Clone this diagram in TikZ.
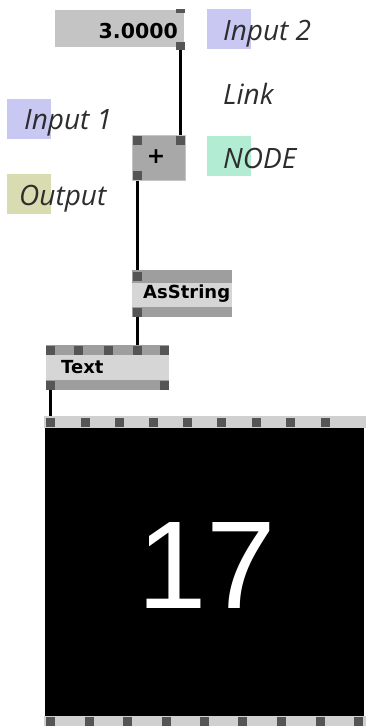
\documentclass[tikz,border=0pt]{standalone}
\usepackage{fontspec}
\setmainfont{Open Sans}
\newfontfamily\uisans{DejaVu Sans}
\newfontfamily\arialf{Liberation Sans}
\usetikzlibrary{backgrounds}
\definecolor{lblblue}{RGB}{200,200,242}
\definecolor{lblgreen}{RGB}{178,236,210}
\definecolor{lblolive}{RGB}{216,220,176}
\definecolor{lbltext}{RGB}{45,45,45}
\definecolor{numfill}{RGB}{196,196,196}
\definecolor{plusfill}{RGB}{168,168,168}
\definecolor{barfill}{RGB}{158,158,158}
\definecolor{midfill}{RGB}{214,214,214}
\definecolor{rendbar}{RGB}{208,208,208}
\definecolor{pincol}{RGB}{85,85,85}
\begin{document}
\begin{tikzpicture}[x=1pt,y=-1pt,
  box/.style={inner sep=0,outer sep=0,anchor=north west},
  pinbox/.style={fill=pincol,inner sep=0,outer sep=0,minimum width=9pt,minimum height=9pt},
  wire/.style={line width=3pt,black},
  lbl/.style={font=\fontsize{28}{28}\selectfont\itshape,text=lbltext,anchor=base west,inner sep=0},
  lblbg/.style={inner sep=0,outer sep=0,anchor=north west,minimum width=44pt,minimum height=40pt},
  nodetext/.style={font=\uisans\bfseries\fontsize{18}{18}\selectfont,inner sep=0,anchor=base west}]
\useasboundingbox (0,0) rectangle (366,726);

% labels
\node[lblbg,fill=lblblue] (bgin2) at (207,9) {};
\node[lbl] (tin2) at (223,40) {Input 2};
\node[lbl] (tlink) at (223,104) {Link};
\node[lblbg,fill=lblgreen] (bgnode) at (207,136) {};
\node[lbl] (tnode) at (223,168) {NODE};
\node[lblbg,fill=lblblue] (bgin1) at (7,99) {};
\node[lbl] (tin1) at (24,129) {Input 1};
\node[lblbg,fill=lblolive] (bgout) at (7,174) {};
\node[lbl] (tout) at (19,205) {Output};

% IOBox value
\node[box,fill=numfill,minimum width=129pt,minimum height=37pt] (num) at (55,10) {};
\node[font=\uisans\bfseries\fontsize{20.5}{20.5}\selectfont,inner sep=0,anchor=base east] (numtxt) at (178,38) {3.0000};
\node[box,fill=pincol,minimum width=9pt,minimum height=4pt] (numin) at (176,9) {};
\node[pinbox,minimum height=8pt] (numout) at (180,46) {};

% plus node
\node[box,fill=plusfill,draw=numfill,line width=0.8pt,minimum width=53pt,minimum height=45pt] (plus) at (132,135) {};
\node[font=\uisans\bfseries\fontsize{22}{22}\selectfont,inner sep=0] (plustxt) at (156,157) {+};
\node[pinbox] (plusin1) at (137,140) {};
\node[pinbox] (plusin2) at (180,140) {};
\node[pinbox] (plusout) at (137,175) {};

% AsString node
\node[box,fill=midfill,minimum width=100pt,minimum height=47pt] (asstr) at (132,270) {};
\fill[barfill] (132,270) rectangle (232,283);
\fill[barfill] (132,307) rectangle (232,317);
\node[nodetext] (astxt) at (143,298) {AsString};
\node[pinbox] (asin) at (137,276) {};
\node[pinbox] (asout) at (137,312) {};

% Text node
\node[box,fill=midfill,minimum width=123pt,minimum height=45pt] (textn) at (46,345) {};
\fill[barfill] (46,345) rectangle (169,355);
\fill[barfill] (46,380) rectangle (169,390);
\node[nodetext] (texttxt) at (61,373) {Text};
\foreach \i/\x in {1/50,2/78,3/108,4/137,5/164}{
  \node[pinbox] (tin\i) at (\x,350) {};
}
\node[pinbox] (tout1) at (50,385) {};
\node[pinbox] (tout2) at (164,385) {};

% Renderer
\fill[rendbar] (44,416) rectangle (366,428);
\node[box,fill=black,minimum width=319pt,minimum height=288pt] (rend) at (45,428) {};
\fill[rendbar] (44,716) rectangle (366,726);
\node[font=\arialf\fontsize{125}{125}\selectfont,text=white,inner sep=0] (seventeen) at (207,565) {17};
\foreach \i/\x in {1/50,2/85,3/119,4/153,5/187,6/221,7/256,8/290,9/325}{
  \node[pinbox] (rin\i) at (\x,422) {};
}
\foreach \i/\x in {1/50,2/89,3/127,4/166,5/204,6/242,7/281,8/320,9/358}{
  \node[pinbox] (rout\i) at (\x,721) {};
}

\begin{scope}[on background layer]
\fill[white] (0,0) rectangle (366,726);
\draw[wire] (numout.center) -- (plusin2.center);
\draw[wire] (plusout.center) -- (asin.center);
\draw[wire] (asout.center) -- (tin4.center);
\draw[wire] (tout1.center) -- (rin1.center);
\end{scope}
\end{tikzpicture}
\end{document}
